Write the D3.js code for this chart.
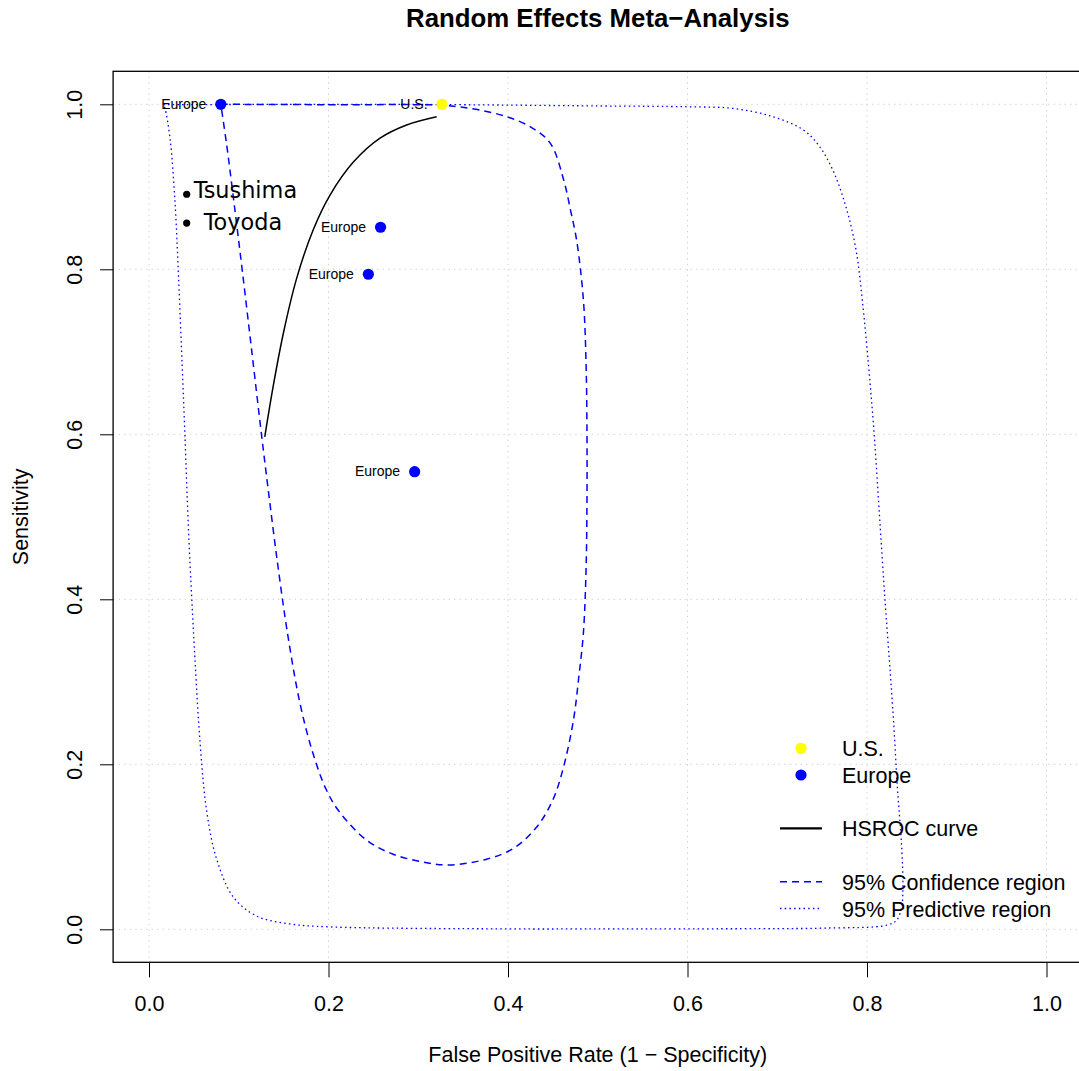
<!DOCTYPE html>
<html lang="en">
<head>
<meta charset="UTF-8">
<title>Random Effects Meta-Analysis</title>
<script src="https://d3js.org/d3.v7.min.js"></script>
<style>
    body { margin: 0; background: #fff; }
    text { font-family: "Liberation Sans", Arial, sans-serif; fill: #000; }
</style>
</head>
<body>
<svg id="chart"></svg>
<script>
    // study points (fpr, sensitivity)
    const studyFpr = [0.080, 0.3265, 0.258, 0.2444, 0.296];
    const studySens = [1.0, 1.0, 0.851, 0.794, 0.5547];
    const studyRegion = ["Europe", "U.S.", "Europe", "Europe", "Europe"];

    const namedFpr = [0.042, 0.042];
    const namedSens = [0.891, 0.856];
    const namedLabels = ["Tsushima", "Toyoda"];

    // HSROC curve
    const hsrocFpr = [0.129, 0.1385, 0.150, 0.1645, 0.183, 0.2017, 0.2277, 0.2574, 0.287, 0.3205];
    const hsrocSens = [0.597, 0.659, 0.724, 0.789, 0.848, 0.890, 0.930, 0.959, 0.975, 0.985];

    // 95% confidence region
    const confFpr = [0.080, 0.2, 0.324, 0.345, 0.369, 0.3985, 0.4245, 0.447, 0.4616, 0.470, 0.4765, 0.484, 0.487, 0.488, 0.488, 0.487, 0.484, 0.479, 0.473, 0.4617, 0.450, 0.432, 0.406, 0.376, 0.335, 0.3057, 0.272, 0.2425, 0.2117, 0.1972, 0.1822, 0.1682, 0.1543, 0.1432, 0.1326, 0.1253, 0.1148, 0.1042, 0.0947, 0.0864, 0.080];
    const confSens = [1.0, 0.9995, 0.999, 0.997, 0.993, 0.985, 0.973, 0.953, 0.910, 0.870, 0.835, 0.763, 0.685, 0.600, 0.522, 0.437, 0.359, 0.307, 0.254, 0.196, 0.157, 0.124, 0.098, 0.085, 0.078, 0.0815, 0.091, 0.108, 0.143, 0.170, 0.215, 0.274, 0.359, 0.444, 0.535, 0.600, 0.698, 0.796, 0.881, 0.952, 1.0];

    // 95% predictive region
    const predFpr = [0.016, 0.1, 0.3, 0.5, 0.60, 0.651, 0.695, 0.729, 0.747, 0.762, 0.777, 0.788, 0.795, 0.802, 0.808, 0.814, 0.820, 0.826, 0.8295, 0.8338, 0.8386, 0.840, 0.8386, 0.833, 0.822, 0.755, 0.68, 0.5, 0.4, 0.2, 0.157, 0.12, 0.094, 0.0754, 0.0643, 0.0568, 0.0513, 0.0475, 0.0438, 0.040, 0.0364, 0.0327, 0.029, 0.0234, 0.0178, 0.016];
    const predSens = [0.9995, 0.9998, 0.9998, 0.998, 0.997, 0.995, 0.985, 0.969, 0.949, 0.920, 0.874, 0.822, 0.76, 0.68, 0.60, 0.50, 0.40, 0.31, 0.254, 0.173, 0.100, 0.052, 0.027, 0.011, 0.005, 0.0015, 0.0008, 0.0005, 0.0005, 0.003, 0.0065, 0.016, 0.039, 0.085, 0.143, 0.228, 0.326, 0.404, 0.489, 0.600, 0.698, 0.796, 0.881, 0.959, 0.995, 0.9995];

    const xTicks = [0, 0.2, 0.4, 0.6, 0.8, 1.0];
    const yTicks = [0, 0.2, 0.4, 0.6, 0.8, 1.0];

    const legendLabels = ["U.S.", "Europe", "", "HSROC curve", "", "95% Confidence region", "95% Predictive region"];
    const legendKinds = ["us", "europe", "", "solid", "", "dashed", "dotted"];

    const regionColor = { "U.S.": "#ffff00", "Europe": "#0000ff" };

    const width = 1079, height = 1071;
    const svg = d3.select("#chart").attr("width", width).attr("height", height);

    const x = d3.scaleLinear().domain([0, 1]).range([149, 1046.5]);
    const y = d3.scaleLinear().domain([0, 1]).range([929.3, 104.3]);

    const boxL = x(-0.04), boxR = x(1.04), boxT = y(1.04), boxB = y(-0.04);

    // grid
    svg.append("g").selectAll("line").data(xTicks).enter().append("line")
        .attr("x1", d => x(d)).attr("x2", d => x(d))
        .attr("y1", boxT).attr("y2", boxB)
        .attr("stroke", "#d3d3d3").attr("stroke-dasharray", "1.5,4");
    svg.append("g").selectAll("line").data(yTicks).enter().append("line")
        .attr("y1", d => y(d)).attr("y2", d => y(d))
        .attr("x1", boxL).attr("x2", boxR)
        .attr("stroke", "#d3d3d3").attr("stroke-dasharray", "1.5,4");

    // axes
    const xAxis = svg.append("g")
        .attr("transform", "translate(0," + boxB + ")")
        .call(d3.axisBottom(x).tickValues(xTicks).tickSize(15).tickPadding(18).tickFormat(d3.format(".1f")));
    xAxis.select(".domain").remove();
    xAxis.selectAll("text").style("font-size", "21.5px").style("font-family", "Liberation Sans, Arial, sans-serif").attr("fill", "#000");
    xAxis.selectAll("line").attr("stroke", "#000");

    const yAxis = svg.append("g")
        .attr("transform", "translate(" + boxL + ",0)")
        .call(d3.axisLeft(y).tickValues(yTicks).tickSize(13).tickFormat(d3.format(".1f")));
    yAxis.select(".domain").remove();
    yAxis.selectAll("line").attr("stroke", "#000");
    yAxis.selectAll("text")
        .attr("x", null).attr("dy", null)
        .attr("transform", "translate(-31.5,0) rotate(-90)")
        .attr("text-anchor", "middle")
        .style("font-size", "21.5px").style("font-family", "Liberation Sans, Arial, sans-serif").attr("fill", "#000");

    // box
    svg.append("rect")
        .attr("x", boxL).attr("y", boxT)
        .attr("width", boxR - boxL).attr("height", boxB - boxT)
        .attr("fill", "none").attr("stroke", "#000").attr("stroke-width", 1.3);

    // titles
    svg.append("text")
        .attr("x", (boxL + boxR) / 2).attr("y", 27)
        .attr("text-anchor", "middle")
        .style("font-size", "25.8px").style("font-weight", "bold")
        .text("Random Effects Meta\u2212Analysis");
    svg.append("text")
        .attr("x", (boxL + boxR) / 2).attr("y", 1062)
        .attr("text-anchor", "middle")
        .style("font-size", "21.5px")
        .text("False Positive Rate (1 \u2212 Specificity)");
    svg.append("text")
        .attr("transform", "translate(27.5," + ((boxT + boxB) / 2) + ") rotate(-90)")
        .attr("text-anchor", "middle")
        .style("font-size", "21.5px")
        .text("Sensitivity");

    const line = d3.line().x(d => x(d[0])).y(d => y(d[1])).curve(d3.curveCatmullRom.alpha(0.5));

    // predictive region
    svg.append("path")
        .datum(d3.zip(predFpr, predSens))
        .attr("d", line)
        .attr("fill", "none").attr("stroke", "#0000ff").attr("stroke-width", 1.3)
        .attr("stroke-dasharray", "1.5,3.2");

    // confidence region
    svg.append("path")
        .datum(d3.zip(confFpr, confSens))
        .attr("d", line)
        .attr("fill", "none").attr("stroke", "#0000ff").attr("stroke-width", 1.5)
        .attr("stroke-dasharray", "7,5");

    // HSROC curve
    svg.append("path")
        .datum(d3.zip(hsrocFpr, hsrocSens))
        .attr("d", line)
        .attr("fill", "none").attr("stroke", "#000").attr("stroke-width", 1.5);

    // study points
    const studies = d3.zip(studyFpr, studySens, studyRegion);
    svg.append("g").selectAll("circle").data(studies).enter().append("circle")
        .attr("cx", d => x(d[0])).attr("cy", d => y(d[1]))
        .attr("r", 5.6)
        .attr("fill", d => regionColor[d[2]]);
    svg.append("g").selectAll("text").data(studies).enter().append("text")
        .attr("x", d => x(d[0]) - 14.5).attr("y", d => y(d[1]) + 4.8)
        .attr("text-anchor", "end")
        .style("font-size", "14px")
        .text(d => d[2]);

    // named studies
    const named = d3.zip(namedFpr, namedSens, namedLabels);
    svg.append("g").selectAll("circle").data(named).enter().append("circle")
        .attr("cx", d => x(d[0])).attr("cy", d => y(d[1]))
        .attr("r", 3.6).attr("fill", "#000");
    const namedDx = [7, 17], namedDy = [3.5, 6.7];
    svg.append("g").selectAll("text").data(named).enter().append("text")
        .attr("x", (d, i) => x(d[0]) + namedDx[i]).attr("y", (d, i) => y(d[1]) + namedDy[i])
        .style("font-family", "DejaVu Sans, sans-serif")
        .style("font-size", "22.4px")
        .text(d => d[2]);

    // legend
    const rowH = 26.7, legY = 748.3, symX = 801, textX = 842;
    const legend = svg.append("g").selectAll("g")
        .data(d3.zip(legendLabels, legendKinds))
        .enter().append("g")
        .attr("transform", (d, i) => "translate(0," + (legY + i * rowH) + ")");
    legend.filter(d => d[1] === "us" || d[1] === "europe").append("circle")
        .attr("cx", symX).attr("cy", 0).attr("r", 5.6)
        .attr("fill", d => d[1] === "us" ? regionColor["U.S."] : regionColor["Europe"]);
    legend.filter(d => d[1] === "solid" || d[1] === "dashed" || d[1] === "dotted").append("line")
        .attr("x1", 780).attr("x2", 822).attr("y1", 0).attr("y2", 0)
        .attr("stroke", d => d[1] === "solid" ? "#000" : "#0000ff")
        .attr("stroke-width", d => d[1] === "solid" ? 2.2 : (d[1] === "dashed" ? 1.5 : 1.3))
        .attr("stroke-dasharray", d => d[1] === "dashed" ? "7,5" : (d[1] === "dotted" ? "1.5,3.2" : null));
    legend.filter(d => d[0] !== "").append("text")
        .attr("x", textX).attr("y", 8)
        .style("font-size", "21.5px")
        .text(d => d[0]);
</script>
</body>
</html>
